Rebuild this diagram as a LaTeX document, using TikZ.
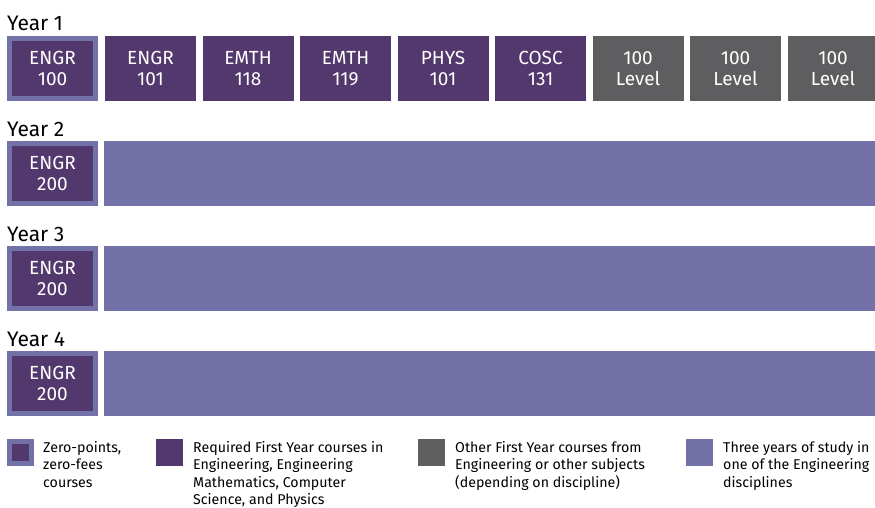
\documentclass[tikz,border=0pt]{standalone}
\usepackage{fontspec}
\setmainfont{Fira Sans}
\usetikzlibrary{positioning}
\definecolor{darkplum}{RGB}{82,56,108}
\definecolor{lavender}{RGB}{114,114,168}
\definecolor{slate}{RGB}{94,94,96}
\tikzset{
	course/.style={minimum width=91pt, minimum height=65pt, inner sep=0pt, outer sep=0pt, text=white, align=center, font=\fontsize{19}{20.5}\selectfont},
	required/.style={course, fill=darkplum},
	other/.style={course, fill=slate},
	zeropt/.style={course, fill=darkplum, draw=lavender, line width=5pt, minimum width=86pt, minimum height=60pt, outer sep=2.5pt},
	study/.style={fill=lavender, minimum width=775pt, minimum height=65pt, inner sep=0pt, outer sep=0pt},
	yearlabel/.style={anchor=base west, inner sep=0pt, font=\fontsize{21}{24}\selectfont},
	keybox/.style={minimum width=27pt, minimum height=27pt, inner sep=0pt, outer sep=0pt},
	keytext/.style={anchor=base west, inner sep=0pt, align=left, font=\fontsize{14.2}{17.5}\selectfont}
}
\begin{document}
\begin{tikzpicture}[x=1pt, y=-1pt]
			%%%%% START %%%%%
			\useasboundingbox (0, 0) rectangle (875, 508);
			\clip (0, 0) rectangle (875, 508);
			
			% year 1
			\node[yearlabel] (yearone) at (7, 31) {Year 1};
			\node[zeropt] (engrhundred) at (52.5, 68.5) {ENGR\\100};
			\node[required, right=7pt of engrhundred] (engrone) {ENGR\\101};
			\node[required, right=6.5pt of engrone] (emtheight) {EMTH\\118};
			\node[required, right=6.5pt of emtheight] (emthnine) {EMTH\\119};
			\node[required, right=6.5pt of emthnine] (physone) {PHYS\\101};
			\node[required, right=6.5pt of physone] (coscone) {COSC\\131};
			\node[other, right=6.5pt of coscone] (levela) {100\\Level};
			\node[other, right=6.5pt of levela] (levelb) {100\\Level};
			\node[other, right=6.5pt of levelb] (levelc) {100\\Level};
			
			% year 2
			\node[yearlabel] (yeartwo) at (7, 136) {Year 2};
			\node[zeropt] (engrtwo) at (52.5, 173.5) {ENGR\\200};
			\node[study, anchor=west, right=6pt of engrtwo] (studytwo) {};
			
			% year 3
			\node[yearlabel] (yearthree) at (7, 241) {Year 3};
			\node[zeropt] (engrthree) at (52.5, 278.5) {ENGR\\200};
			\node[study, anchor=west, right=6pt of engrthree] (studythree) {};
			
			% year 4
			\node[yearlabel] (yearfour) at (7, 346) {Year 4};
			\node[zeropt] (engrfour) at (52.5, 383.5) {ENGR\\200};
			\node[study, anchor=west, right=6pt of engrfour] (studyfour) {};
			
			% key (base = last line)
			\node[keybox, fill=darkplum, draw=lavender, line width=5pt, minimum width=22pt, minimum height=22pt] (keyzero) at (20.5, 452.5) {};
			\node[keytext] (textzero) at (43, 487) {Zero-points,\\zero-fees\\courses};
			
			\node[keybox, fill=darkplum] (keyrequired) at (169.5, 452.5) {};
			\node[keytext] (textrequired) at (193, 504.5) {Required First Year courses in\\Engineering, Engineering\\Mathematics, Computer\\Science, and Physics};
			
			\node[keybox, fill=slate] (keyother) at (431.5, 452.5) {};
			\node[keytext] (textother) at (455, 487) {Other First Year courses from\\Engineering or other subjects\\(depending on discipline)};
			
			\node[keybox, fill=lavender] (keystudy) at (699.5, 452.5) {};
			\node[keytext] (textstudy) at (723, 487) {Three years of study in\\one of the Engineering\\disciplines};
			
			%%%%% END %%%%%
\end{tikzpicture}
\end{document}
